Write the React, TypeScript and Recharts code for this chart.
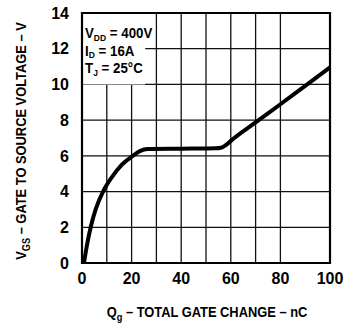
import { CartesianGrid, Label, Line, LineChart, ReferenceArea, XAxis, YAxis } from 'recharts';

const qg = [0.8, 2, 3.5, 5.5, 8.5, 12, 16, 20.5, 23.5, 26.5, 40, 54, 56, 58, 60, 70, 80, 90, 100];
const vgs = [0, 1, 2, 3, 4, 4.8, 5.5, 6.0, 6.28, 6.38, 6.4, 6.42, 6.45, 6.6, 6.84, 7.87, 8.89, 9.92, 10.95];

const xTicks = [0, 20, 40, 60, 80, 100];
const yTicks = [0, 2, 4, 6, 8, 10, 12, 14];
const xGrid = [0, 10, 20, 30, 40, 50, 60, 70, 80, 90, 100];
const yGrid = [0, 2, 4, 6, 8, 10, 12, 14];

const data = qg.map((q, i) => ({ q, v: vgs[i] }));

const FONT = '"Liberation Sans", Arial, sans-serif';
const txt = { fontFamily: FONT, fontWeight: 'bold', fill: '#000' } as const;
const tickStyle = { fill: '#000', fontSize: 16, fontWeight: 'bold', fontFamily: FONT };

function YLabel({ viewBox }: any) {
  const cy = viewBox.y + viewBox.height / 2 + 3;
  return (
    <text
      x={0}
      y={0}
      transform={`translate(21, ${cy}) rotate(-90) scale(0.92, 1.1)`}
      textAnchor="middle"
      dominantBaseline="central"
      fontSize={14}
      {...txt}
    >
      V<tspan fontSize={10} dy={4}>GS</tspan>
      <tspan dy={-4}> – GATE TO SOURCE VOLTAGE – V</tspan>
    </text>
  );
}

function XLabel() {
  return (
    <text x={0} y={0} transform="translate(207, 317) scale(0.92, 1.1)" textAnchor="middle" fontSize={14} {...txt}>
      Q<tspan fontSize={10} dy={4}>g</tspan>
      <tspan dy={-4}> – TOTAL GATE CHANGE – nC</tspan>
    </text>
  );
}

function Conditions({ viewBox }: any) {
  const x = viewBox.x + 3;
  const y = viewBox.y;
  // base letter width and subscript width (Liberation Sans Bold, 14px / 9px)
  const rows = [
    { base: 'V', sub: 'DD', rest: ' = 400V', b: 25, bw: 9.3, sw: 13 },
    { base: 'I', sub: 'D', rest: ' = 16A', b: 42.5, bw: 3.9, sw: 6.5 },
    { base: 'T', sub: 'J', rest: ' = 25°C', b: 60, bw: 8.6, sw: 5 },
  ];
  return (
    <g>
      {rows.map((r) => (
        <g key={r.base} transform={`translate(${x}, ${y + r.b}) scale(0.95, 1)`}>
          <text x={0} y={0} fontSize={14} {...txt}>{r.base}</text>
          <text x={r.bw} y={2.5} fontSize={9} {...txt}>{r.sub}</text>
          <text x={r.bw + r.sw} y={0} fontSize={14} {...txt} style={{ whiteSpace: 'pre' }}>{r.rest}</text>
        </g>
      ))}
    </g>
  );
}

export default function App() {
  return (
    <div style={{ position: 'absolute', left: 0, top: 0, width: 347, height: 326, background: '#fff' }}>
      <LineChart width={347} height={326} data={data} margin={{ top: 13, right: 17, bottom: 0, left: 32 }}>
        <CartesianGrid stroke="#111" strokeWidth={1.3} verticalValues={xGrid} horizontalValues={yGrid} />
        <XAxis
          dataKey="q"
          type="number"
          domain={[0, 100]}
          ticks={xTicks}
          tickLine={false}
          axisLine={false}
          height={63}
          tick={tickStyle}
          tickMargin={4}
        >
          <Label content={<XLabel />} />
        </XAxis>
        <YAxis
          type="number"
          domain={[0, 14]}
          ticks={yTicks}
          tickLine={false}
          axisLine={false}
          width={50}
          tick={tickStyle}
          tickMargin={7}
        >
          <Label content={<YLabel />} />
        </YAxis>
        <ReferenceArea x1={0} x2={25.5} y1={10} y2={14} fill="#fff" fillOpacity={1} stroke="none" label={<Conditions />} />
        <ReferenceArea x1={0} x2={100} y1={0} y2={14} fill="none" stroke="#000" strokeWidth={2.2} />
        <Line type="monotone" dataKey="v" stroke="#000" strokeWidth={4} dot={false} isAnimationActive={false} />
      </LineChart>
    </div>
  );
}
